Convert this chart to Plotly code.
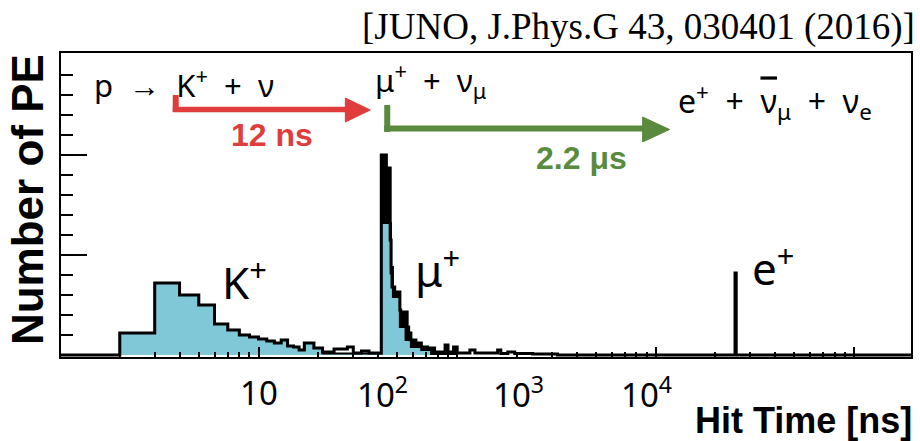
import plotly.graph_objects as go

# ---------------- data ----------------
# total hit-time histogram (black outline): bin edges [ns] and PE per bin (arb. units)
total_edges = [1, 2, 3, 4, 5, 6, 7, 8, 9, 10, 11, 12, 13, 14, 15, 16, 17, 19, 21, 24,
               28, 30, 33, 36, 41.5, 44, 46, 46.5, 47, 48.5, 51.5, 52, 56, 57, 58.5,
               62, 66, 71, 77, 87, 90, 96, 100, 116, 123, 160, 166, 180, 195, 240,
               320, 2510, 2545, 19300]
total_pe = [0, 22, 72, 60, 50, 31, 25, 20, 18, 16, 14, 12, 15, 9, 8, 5, 12, 7, 3, 6,
            8, 2, 4, 2, 200, 187, 115, 82, 68, 63, 45, 43, 28, 22, 15, 12, 8, 7, 3, 10,
            3, 8, 2, 5, 2, 5, 1.5, 3, 1.5, 1, 0, 82, 0]

# K+ and mu+ signal component (light-blue filled histogram)
comp_edges = [2, 3, 4, 5, 6, 7, 8, 9, 10, 11, 12, 13, 14, 15, 16, 17, 19, 21, 41.5,
              46.4, 47.5, 51.5, 55, 58.5, 66, 74]
comp_pe = [22, 72, 60, 50, 31, 25, 20, 18, 16, 14, 12, 15, 9, 8, 5, 12, 7, 1.5, 132,
           88, 58, 28, 15, 8, 5]

mu_window = (41.5, 100)          # region where the black total is drawn solid

x_major = [10, 100, 1000, 10000]
x_minor = [k * d for d in [1, 10, 100, 1000] for k in range(2, 10)]
y_major = [100, 200]
y_minor = [20, 40, 60, 80, 120, 140, 160, 180, 220, 240, 260, 280]

tick_labels = ["10", "10<sup>2</sup>", "10<sup>3</sup>", "10<sup>4</sup>"]
tick_label_px = [259, 383, 520, 648]       # where the labels sit in the picture

BLUE = "#80c7d8"
RED = "#e03c3c"
GREEN = "#5a8a3e"

# ---------------- helpers ----------------
W, H = 920, 441
L, R, T, B = 61, 913, 53, 357


def px(x):
    return (x - L) / (R - L)


def py(y):
    return (B - y) / (B - T)


def steps(edges, vals):
    xs = [edges[0]] + list(edges)
    ys = [0] + list(vals) + [0]
    return xs, ys


fig = go.Figure()

# solid black under the muon peak
mu_e, mu_v = [], []
for i, v in enumerate(total_pe):
    if total_edges[i] >= mu_window[0] and total_edges[i + 1] <= mu_window[1]:
        if not mu_e:
            mu_e.append(total_edges[i])
        mu_e.append(total_edges[i + 1])
        mu_v.append(v)
xs, ys = steps(mu_e, mu_v)
fig.add_trace(go.Scatter(x=xs, y=ys, mode="lines", line=dict(color="black", width=2, shape="hv"),
                         fill="tozeroy", fillcolor="black", hoverinfo="skip"))

# light-blue component
xs, ys = steps(comp_edges, comp_pe)
fig.add_trace(go.Scatter(x=xs, y=ys, mode="lines", line=dict(color="black", width=2, shape="hv"),
                         fill="tozeroy", fillcolor=BLUE, hoverinfo="skip"))

# black total outline
xs, ys = steps(total_edges, total_pe)
fig.add_trace(go.Scatter(x=xs, y=ys, mode="lines", line=dict(color="black", width=3, shape="hv"),
                         hoverinfo="skip"))

fig.update_layout(
    width=W, height=H,
    margin=dict(l=L, r=W - R, t=T, b=H - B),
    paper_bgcolor="white", plot_bgcolor="white",
    showlegend=False,
    xaxis=dict(type="log", range=[0.005, 4.286], showline=True, linecolor="black", linewidth=2,
               mirror=True, ticks="inside", tickvals=x_major, ticklen=10, tickwidth=2,
               tickcolor="black", showticklabels=False, showgrid=False, zeroline=False,
               minor=dict(tickmode="array", tickvals=x_minor, ticks="inside", ticklen=5,
                          tickwidth=1.5, tickcolor="black", showgrid=False)),
    yaxis=dict(range=[-2, 302], showline=True, linecolor="black", linewidth=2, mirror=True,
               ticks="inside", tickvals=y_major, ticklen=26, tickwidth=2, tickcolor="black",
               showticklabels=False, showgrid=False, zeroline=False,
               minor=dict(tickmode="array", tickvals=y_minor, ticks="inside", ticklen=12,
                          tickwidth=2, tickcolor="black", showgrid=False)),
)

ann = []
SANS = "Noto Sans"
BOLD = "Liberation Sans"
S2 = "\u00a0\u00a0"


def text(s, x, y, size, color="black", family=SANS, xanchor="left", angle=0):
    ann.append(dict(text=s, x=px(x), y=py(y), xref="paper", yref="paper", showarrow=False,
                    xanchor=xanchor, yanchor="middle", textangle=angle,
                    font=dict(size=size, color=color, family=family)))


# x tick labels
for lab, p in zip(tick_labels, tick_label_px):
    text(lab, p, 392, 33, xanchor="center")

# titles
text("<b>Hit Time [ns]</b>", 916, 420, 36, family=BOLD, xanchor="right")
text("<b>Number of PE</b>", 27, 200, 44, family=BOLD, xanchor="center", angle=-90)
text("[JUNO, J.Phys.G 43, 030401 (2016)]", 919, 27, 37, family="Liberation Serif", xanchor="right")

# decay chain
text("p" + S2 + "→" + S2 + "K<sup>+</sup>" + S2 + "+" + S2 + "ν", 92, 83, 31)
text("μ<sup>+</sup>" + S2 + "+" + S2 + "ν<sub>μ</sub>", 374, 81, 31)
text("e<sup>+</sup>" + S2 + "+" + S2 + "<span style='text-decoration:overline'>ν</span><sub>μ</sub>"
     + S2 + "+" + S2 + "ν<sub>e</sub>", 677, 101, 32)
text("<b>12 ns</b>", 272, 135, 32, color=RED, family=BOLD, xanchor="center")
text("<b>2.2 μs</b>", 583, 158, 32, color=GREEN, family=BOLD, xanchor="center")

# peak labels
text("K<sup>+</sup>", 220, 280, 44)
text("μ<sup>+</sup>", 414, 268, 44)
text("e<sup>+</sup>", 752, 266, 44)

fig.update_layout(annotations=ann)

# arrows
shapes = []


def seg(x0, y0, x1, y1, color, w=5):
    shapes.append(dict(type="line", xref="paper", yref="paper", x0=px(x0), y0=py(y0),
                       x1=px(x1), y1=py(y1), line=dict(color=color, width=w)))


def head(xb, yc, xt, half, color):
    path = "M {},{} L {},{} L {},{} Z".format(px(xb), py(yc - half), px(xt), py(yc),
                                               px(xb), py(yc + half))
    shapes.append(dict(type="path", xref="paper", yref="paper", path=path,
                       fillcolor=color, line=dict(color=color, width=1)))


seg(176, 95, 176, 112, RED, 6)
seg(173, 109.5, 350, 109.5, RED, 5.5)
head(346, 110, 371, 12, RED)

seg(388, 105, 388, 132, GREEN, 6)
seg(385, 128.5, 648, 128.5, GREEN, 6)
head(644, 129.5, 671, 12.5, GREEN)

fig.update_layout(shapes=shapes)

fig.write_html("out.html")
